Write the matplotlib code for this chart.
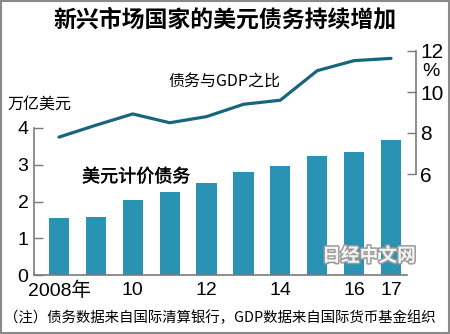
import matplotlib
matplotlib.use("Agg")
import matplotlib.pyplot as plt
import matplotlib.patheffects as pe
from matplotlib.patches import Rectangle

# --------------------------------------------------------------------------- #
# Dados
# --------------------------------------------------------------------------- #
anos = [2008, 2009, 2010, 2011, 2012, 2013, 2014, 2015, 2016, 2017]
divida_usd = [1.55, 1.59, 2.03, 2.27, 2.50, 2.81, 2.97, 3.23, 3.34, 3.67]   # 万亿美元
divida_pib = [7.8, 8.38, 8.93, 8.5, 8.8, 9.4, 9.6, 11.04, 11.53, 11.64]     # %
xticks = [2008, 2010, 2012, 2014, 2016, 2017]
xticklabels = ["2008年", "10", "12", "14", "16", "17"]
yticks_esq = [0, 1, 2, 3, 4]
yticks_dir = [6, 8, 10, 12]

titulo = "新兴市场国家的美元债务持续增加"
unidade = "万亿美元"
rot_linha = "债务与GDP之比"
rot_barra = "美元计价债务"
nota = "（注）债务数据来自国际清算银行，GDP数据来自国际货币基金组织"

COR_BARRA = "#2A92B2"
COR_LINHA = "#17667E"
COR_EIXO = "#7a7a7a"
CJK = ["Noto Sans CJK SC", "DejaVu Sans"]
NUM = ["Liberation Sans", "DejaVu Sans"]

plt.rcParams["font.family"] = CJK

W, H = 450, 334
fig = plt.figure(figsize=(W / 100, H / 100), dpi=100)

# geometria em pixels (medida na referencia)
x_esq, x_fim_base, x_dir = 34, 407, 416
y_zero, y_quatro = 275, 128
y_seis, y_doze = 174, 51
px_ano = (391 - 59) / 9
x0 = 2008 - (59 - x_esq) / px_ano

def fx(px):
    return px / W

def fy(py):
    return (H - py) / H

# --- barras ---------------------------------------------------------------- #
ax = fig.add_axes([fx(x_esq), fy(y_zero), (x_fim_base - x_esq) / W, (y_zero - y_quatro) / H])
ax.bar(anos, divida_usd, width=0.55, color=COR_BARRA, zorder=2)
ax.set_xlim(x0, x0 + (x_fim_base - x_esq) / px_ano)
ax.set_ylim(0, 4)
for s in ("top", "right"):
    ax.spines[s].set_visible(False)
for s in ("left", "bottom"):
    ax.spines[s].set_color(COR_EIXO)
    ax.spines[s].set_linewidth(1.2)
ax.set_yticks(yticks_esq)
ax.set_yticklabels([str(v) for v in yticks_esq], family=NUM, fontsize=14)
ax.tick_params(axis="y", direction="in", length=6.5, width=1, color=COR_EIXO, pad=4)
ax.set_xticks(xticks)
ax.set_xticklabels(xticklabels, fontsize=14)
for t in ax.get_xticklabels():
    t.set_family(["Liberation Sans", "Noto Sans CJK SC", "DejaVu Sans"])
ax.tick_params(axis="x", length=0, pad=5)
ax.patch.set_visible(False)

# --- linha (eixo da direita) ----------------------------------------------- #
ax2 = fig.add_axes([fx(x_esq), fy(y_seis), (x_dir - x_esq) / W, (y_seis - y_doze) / H])
ax2.plot(anos, divida_pib, color=COR_LINHA, lw=2.3, solid_capstyle="round", zorder=3)
ax2.set_xlim(x0, x0 + (x_dir - x_esq) / px_ano)
ax2.set_ylim(6, 12)
ax2.patch.set_visible(False)
for s in ("top", "left", "bottom"):
    ax2.spines[s].set_visible(False)
ax2.spines["right"].set_color(COR_EIXO)
ax2.spines["right"].set_linewidth(1.2)
ax2.set_xticks([])
ax2.yaxis.tick_right()
ax2.set_yticks(yticks_dir)
ax2.set_yticklabels([str(v) for v in yticks_dir], family=NUM, fontsize=15)
ax2.tick_params(axis="y", direction="in", length=6.5, width=1, color=COR_EIXO, pad=3)
fig.text(fx(431), fy(72), "%", family=NUM, fontsize=14, ha="center", va="center")

# --- textos ---------------------------------------------------------------- #
fig.text(0.5, fy(20), titulo, ha="center", va="center", fontsize=16.5, fontweight="bold")
fig.text(fx(7), fy(104), unidade, ha="left", va="center", fontsize=11.5)
fig.text(fx(168), fy(81), rot_linha, ha="left", va="center", fontsize=11.5)
fig.text(fx(82), fy(177), rot_barra, ha="left", va="center", fontsize=13,
         path_effects=[pe.withStroke(linewidth=0.3, foreground="black")])
fig.text(fx(4), fy(318), nota, ha="left", va="center", fontsize=10.4)

# marca d'agua
fig.text(fx(369), fy(256), "日经中文网", ha="center", va="center", fontsize=13.5,
         fontweight="bold", color="#f4f4f4", zorder=10,
         path_effects=[pe.withStroke(linewidth=2.2, foreground="#9a9a9a")])

# moldura
fig.patches.append(Rectangle((0.003, 0.004), 0.994, 0.992, transform=fig.transFigure,
                             fill=False, edgecolor="#8a8a8a", lw=1.5))

fig.savefig("out.png", dpi=100, facecolor="white")
